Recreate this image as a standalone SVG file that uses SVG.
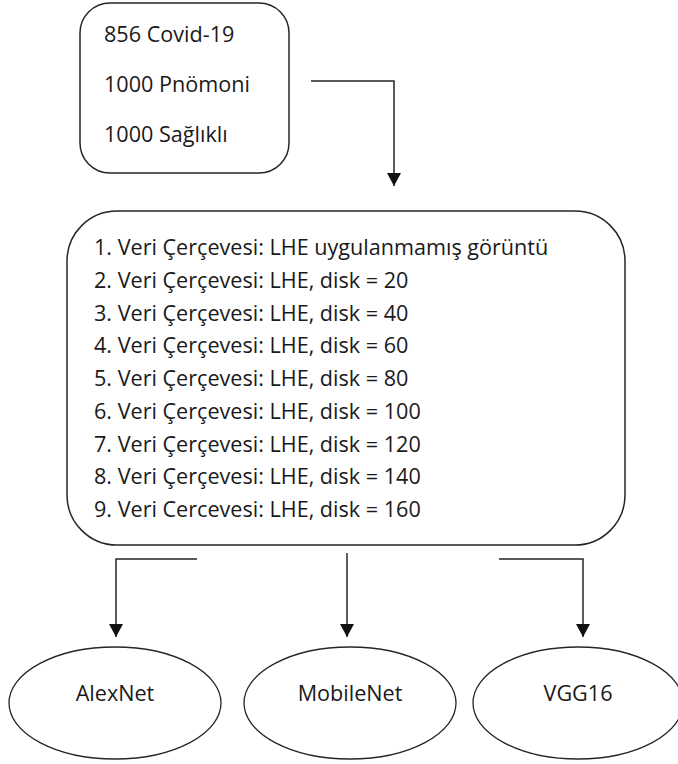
<svg xmlns="http://www.w3.org/2000/svg" width="678" height="764" viewBox="0 0 678 764">
  <style>
    .box { fill: #ffffff; stroke: #262626; stroke-width: 1.5; }
    .oval { fill: #ffffff; stroke: #262626; stroke-width: 1.3; }
    .label { font-family: "Open Sans", "Noto Sans", "Liberation Sans", sans-serif; font-size: 21.6px; fill: #1a1a1a; }
    .mid { text-anchor: middle; }
    .wire { fill: none; stroke: #262626; stroke-width: 1.5; }
  </style>
  <defs>
    <marker id="arrow" markerUnits="userSpaceOnUse" markerWidth="14" markerHeight="14" viewBox="0 0 14 14" refX="13" refY="7" orient="auto">
      <path d="M0,0 L13,7 L0,14 Z" fill="#111111"/>
    </marker>
  </defs>

  <rect width="678" height="764" fill="#ffffff"/>

  <!-- dataset counts -->
  <g id="dataset">
    <rect class="box" x="80" y="3" width="209" height="170" rx="30" ry="30"/>
    <text class="label" x="104" y="42">856 Covid-19</text>
    <text class="label" x="104" y="92">1000 Pnömoni</text>
    <text class="label" x="104" y="142">1000 Sağlıklı</text>
  </g>

  <!-- data frames -->
  <g id="frames">
    <rect class="box" x="67" y="211" width="558" height="334" rx="50" ry="50"/>
    <text class="label" x="94" y="255">1. Veri Çerçevesi: LHE uygulanmamış görüntü</text>
    <text class="label" x="94" y="288">2. Veri Çerçevesi: LHE, disk = 20</text>
    <text class="label" x="94" y="320.5">3. Veri Çerçevesi: LHE, disk = 40</text>
    <text class="label" x="94" y="353">4. Veri Çerçevesi: LHE, disk = 60</text>
    <text class="label" x="94" y="386">5. Veri Çerçevesi: LHE, disk = 80</text>
    <text class="label" x="94" y="419">6. Veri Çerçevesi: LHE, disk = 100</text>
    <text class="label" x="94" y="451.5">7. Veri Çerçevesi: LHE, disk = 120</text>
    <text class="label" x="94" y="484">8. Veri Çerçevesi: LHE, disk = 140</text>
    <text class="label" x="94" y="517">9. Veri Cercevesi: LHE, disk = 160</text>
  </g>

  <!-- models -->
  <g id="alexnet">
    <ellipse class="oval" cx="115" cy="703" rx="106" ry="56"/>
    <text class="label mid" x="115" y="701">AlexNet</text>
  </g>
  <g id="mobilenet">
    <ellipse class="oval" cx="350" cy="703" rx="106" ry="56"/>
    <text class="label mid" x="350" y="701">MobileNet</text>
  </g>
  <g id="vgg16">
    <ellipse class="oval" cx="578" cy="703" rx="105" ry="56"/>
    <text class="label mid" x="578" y="701">VGG16</text>
  </g>

  <!-- connectors -->
  <g id="connectors">
    <path class="wire" d="M311,81 H394 V186" marker-end="url(#arrow)"/>
    <path class="wire" d="M197,559 H116 V637" marker-end="url(#arrow)"/>
    <path class="wire" d="M347,553 V637" marker-end="url(#arrow)"/>
    <path class="wire" d="M499,559 H583 V637" marker-end="url(#arrow)"/>
  </g>
</svg>
